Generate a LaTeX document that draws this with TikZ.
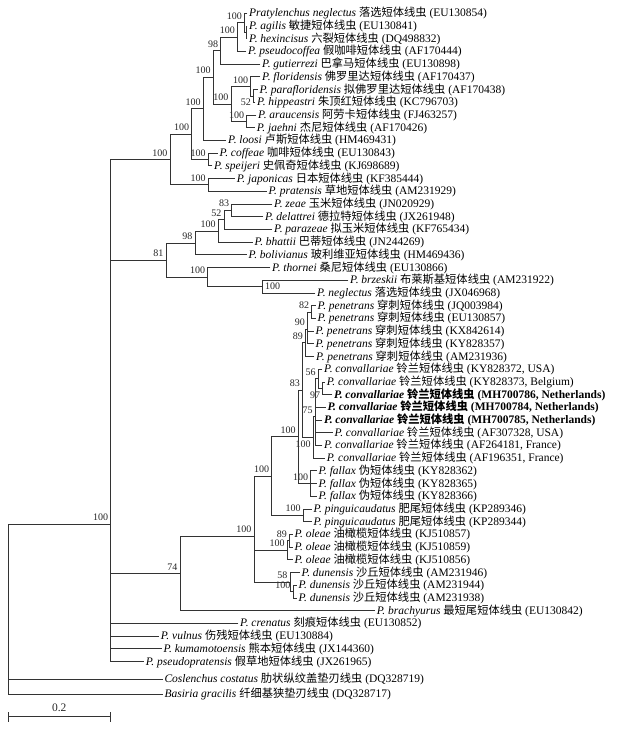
\documentclass[tikz,border=0pt]{standalone}
\usepackage{fontspec}
\setmainfont{Liberation Serif}
\newfontfamily\cjkfont[Scale=0.98]{Noto Sans CJK SC}
\newcommand{\sn}[2]{\textit{#1} {\cjkfont #2}}

\tikzset{
  branch/.style={line width=0.75pt, draw=black!80, line cap=rect},
  leaf/.style={anchor=west, inner xsep=2pt, inner ysep=0pt, font=\fontsize{11.5}{13}\selectfont},
  bs/.style={font=\fontsize{10}{10}\selectfont, inner sep=0pt, text=black!85},
  bsup/.style={bs, xshift=-2.5pt, yshift=3pt},
  bsdn/.style={bs, xshift=-2.5pt, yshift=-3pt}
}

\begin{document}
\begin{tikzpicture}[x=1pt,y=-1pt]
\useasboundingbox (0,0) rectangle (632,729);
% the leaves, one row each
\foreach \i/\x/\leaftext in {
  1/247/{\sn{Pratylenchus neglectus}{落选短体线虫} (EU130854)},
  2/247/{\sn{P. agilis}{敏捷短体线虫} (EU130841)},
  3/247/{\sn{P. hexincisus}{六裂短体线虫} (DQ498832)},
  4/246/{\sn{P. pseudocoffea}{假咖啡短体线虫} (AF170444)},
  5/260/{\sn{P. gutierrezi}{巴拿马短体线虫} (EU130898)},
  6/260/{\sn{P. floridensis}{佛罗里达短体线虫} (AF170437)},
  7/257.3/{\sn{P. parafloridensis}{拟佛罗里达短体线虫} (AF170438)},
  8/255/{\sn{P. hippeastri}{朱顶红短体线虫} (KC796703)},
  9/256/{\sn{P. araucensis}{阿劳卡短体线虫} (FJ463257)},
  10/254.7/{\sn{P. jaehni}{杰尼短体线虫} (AF170426)},
  11/226/{\sn{P. loosi}{卢斯短体线虫} (HM469431)},
  12/217.5/{\sn{P. coffeae}{咖啡短体线虫} (EU130843)},
  13/212/{\sn{P. speijeri}{史佩奇短体线虫} (KJ698689)},
  14/234.7/{\sn{P. japonicas}{日本短体线虫} (KF385444)},
  15/266.3/{\sn{P. pratensis}{草地短体线虫} (AM231929)},
  16/272/{\sn{P. zeae}{玉米短体线虫} (JN020929)},
  17/263/{\sn{P. delattrei}{德拉特短体线虫} (JX261948)},
  18/272/{\sn{P. parazeae}{拟玉米短体线虫} (KF765434)},
  19/252.5/{\sn{P. bhattii}{巴蒂短体线虫} (JN244269)},
  20/246.5/{\sn{P. bolivianus}{玻利维亚短体线虫} (HM469436)},
  21/270/{\sn{P. thornei}{桑尼短体线虫} (EU130866)},
  22/348/{\sn{P. brzeskii}{布莱斯基短体线虫} (AM231922)},
  23/315/{\sn{P. neglectus}{落选短体线虫} (JX046968)},
  24/315.5/{\sn{P. penetrans}{穿刺短体线虫} (JQ003984)},
  25/315.5/{\sn{P. penetrans}{穿刺短体线虫} (EU130857)},
  26/313.5/{\sn{P. penetrans}{穿刺短体线虫} (KX842614)},
  27/313.5/{\sn{P. penetrans}{穿刺短体线虫} (KY828357)},
  28/314/{\sn{P. penetrans}{穿刺短体线虫} (AM231936)},
  29/322/{\sn{P. convallariae}{铃兰短体线虫} (KY828372, USA)},
  30/324.7/{\sn{P. convallariae}{铃兰短体线虫} (KY828373, Belgium)},
  31/332/{\bfseries\sn{P. convallariae}{铃兰短体线虫} (MH700786, Netherlands)},
  32/325.3/{\bfseries\sn{P. convallariae}{铃兰短体线虫} (MH700784, Netherlands)},
  33/322/{\bfseries\sn{P. convallariae}{铃兰短体线虫} (MH700785, Netherlands)},
  34/332.5/{\sn{P. convallariae}{铃兰短体线虫} (AF307328, USA)},
  35/322/{\sn{P. convallariae}{铃兰短体线虫} (AF264181, France)},
  36/324.7/{\sn{P. convallariae}{铃兰短体线虫} (AF196351, France)},
  37/316.3/{\sn{P. fallax}{伪短体线虫} (KY828362)},
  38/316.3/{\sn{P. fallax}{伪短体线虫} (KY828365)},
  39/316.3/{\sn{P. fallax}{伪短体线虫} (KY828366)},
  40/311.3/{\sn{P. pinguicaudatus}{肥尾短体线虫} (KP289346)},
  41/311.3/{\sn{P. pinguicaudatus}{肥尾短体线虫} (KP289344)},
  42/292.3/{\sn{P. oleae}{油橄榄短体线虫} (KJ510857)},
  43/292.3/{\sn{P. oleae}{油橄榄短体线虫} (KJ510859)},
  44/292.3/{\sn{P. oleae}{油橄榄短体线虫} (KJ510856)},
  45/299.5/{\sn{P. dunensis}{沙丘短体线虫} (AM231946)},
  46/296.3/{\sn{P. dunensis}{沙丘短体线虫} (AM231944)},
  47/296.3/{\sn{P. dunensis}{沙丘短体线虫} (AM231938)},
  48/374.7/{\sn{P. brachyurus}{最短尾短体线虫} (EU130842)},
  49/238/{\sn{P. crenatus}{刻痕短体线虫} (EU130852)},
  50/158.7/{\sn{P. vulnus}{伤残短体线虫} (EU130884)},
  51/161.3/{\sn{P. kumamotoensis}{熊本短体线虫} (JX144360)},
  52/143.7/{\sn{P. pseudopratensis}{假草地短体线虫} (JX261965)}}
  \node[leaf] (l\i) at (\x,{13.3+(\i-1)*12.71}) {\leaftext};
% the two outgroups
\node[leaf] (l53) at (162.3,679.3) {\sn{Coslenchus costatus}{肋状纵纹盖垫刃线虫} (DQ328719)};
\node[leaf] (l54) at (162.3,694.3) {\sn{Basiria gracilis}{纤细基狭垫刃线虫} (DQ328717)};

% root and ingroup
\coordinate (r) at (8.3,632.5);
\coordinate[label={[bsup]above left:100}] (n0) at (110.7,524);
% clade A
\coordinate[label={[bsup]above left:100}] (a1) at (170,159.5);
\coordinate[label={[bsup]above left:100}] (a2) at (191.7,134.1);
\coordinate[label={[bsup]above left:100}] (a3) at (203.3,108.8);
\coordinate[label={[bsup]above left:100}] (a4) at (213.3,77.2);
\coordinate[label={[bsup]above left:98}] (a5) at (220.7,50.6);
\coordinate[label={[bsup]above left:100}] (a6) at (237.5,37.1);
\coordinate[label={[bsup]above left:100}] (a7) at (244.5,22.8);
\coordinate (a8) at (246,32.35);
\coordinate[label={[bsup]above left:100}] (a9) at (231,103.9);
\coordinate[label={[bsup]above left:100}] (a10) at (250.7,86.4);
\coordinate[label={[bsdn]below left:52}] (a11) at (253.5,95.95);
\coordinate[label={[bsup]above left:100}] (a12) at (246.7,121.35);
\coordinate[label={[bsup]above left:100}] (a13) at (208.3,159.45);
\coordinate[label={[bsup]above left:100}] (a14) at (208.3,184.85);
% clade B
\coordinate[label={[bsup]above left:81}] (b1) at (166,260);
\coordinate[label={[bsup]above left:98}] (b2) at (195,242.9);
\coordinate[label={[bsup]above left:100}] (b3) at (218.3,231);
\coordinate[label={[bsup]above left:52}] (b4) at (224,219.8);
\coordinate[label={[bsup]above left:83}] (b5) at (231.7,210.25);
\coordinate[label={[bsup]above left:100}] (b6) at (207.7,277);
\coordinate[label={[bs,xshift=3pt]right:100}] (b7) at (262,286.55);
% clade C
\coordinate[label={[bsup]above left:74}] (c1) at (180,573.3);
\coordinate[label={[bsup]above left:100}] (c2) at (254,536.1);
\coordinate[label={[bsup]above left:100}] (c3) at (271.7,476);
\coordinate[label={[bsup]above left:100}] (c4) at (298.3,436.8);
\coordinate[label={[bsup]above left:83}] (c5) at (302.5,390.1);
\coordinate[label={[bsup]above left:89}] (c6) at (305.5,342.7);
\coordinate[label={[bsup]above left:90}] (c7) at (307.5,328.9);
\coordinate[label={[bsup]above left:82}] (c8) at (311.7,311.95);
\coordinate[label={[bsdn]below left:100}] (c9) at (313.3,437.5);
\coordinate[label={[bsup]above left:75}] (c10) at (315.3,416.8);
\coordinate[label={[bsup]above left:56}] (c11) at (318.3,378.7);
\coordinate[label={[bsdn]below left:97}] (c12) at (322.7,388.25);
\coordinate[label={[bsup]above left:100}] (c13) at (310.7,483.5);
\coordinate[label={[bsup]above left:100}] (c14) at (303.3,515.25);
\coordinate[label={[bsup]above left:100}] (c15) at (287.3,550.2);
\coordinate[label={[bsup]above left:89}] (c16) at (289.5,540.65);
\coordinate[label={[bsup]above left:58}] (c17) at (290,582);
\coordinate[label={[bsup]above left:100}] (c18) at (293,591.55);

% the branches
\foreach \p/\c in {r/n0, r/l53, r/l54,
  n0/a1, n0/b1, n0/c1, n0/l49, n0/l50, n0/l51, n0/l52}
  \draw[branch] (\p) |- (\c);
\foreach \p/\c in {a1/a2, a1/a14, a2/a3, a2/a13, a3/a4, a3/l11, a4/a5, a4/a9,
  a5/a6, a5/l5, a6/a7, a6/l4, a7/l1, a7/a8, a8/l2, a8/l3, a9/a10, a9/a12,
  a10/l6, a10/a11, a11/l7, a11/l8, a12/l9, a12/l10, a13/l12, a13/l13,
  a14/l14, a14/l15}
  \draw[branch] (\p) |- (\c);
\foreach \p/\c in {b1/b2, b1/b6, b2/b3, b2/l20, b3/b4, b3/l19, b4/b5, b4/l18,
  b5/l16, b5/l17, b6/l21, b6/b7, b7/l22, b7/l23}
  \draw[branch] (\p) |- (\c);
\foreach \p/\c in {c1/c2, c1/l48, c2/c3, c2/c15, c2/c17, c3/c4, c3/c14,
  c4/c5, c4/c13, c5/c6, c5/c9, c6/c7, c6/l28, c7/c8, c7/l26, c7/l27,
  c8/l24, c8/l25, c9/c10, c9/l36, c10/c11, c10/l32, c10/l33, c10/l34, c10/l35,
  c11/l29, c11/c12, c12/l30, c12/l31, c13/l37, c13/l38, c13/l39,
  c14/l40, c14/l41, c15/c16, c15/l44, c16/l42, c16/l43,
  c17/l45, c17/c18, c18/l46, c18/l47}
  \draw[branch] (\p) |- (\c);

% the scale bar
\coordinate (s1) at (8.3,716.7);
\coordinate (s2) at (110,716.7);
\draw[branch] (s1) -- (s2);
\draw[branch] ([yshift=4pt]s1) -- ([yshift=-4.5pt]s1);
\draw[branch] ([yshift=4pt]s2) -- ([yshift=-4.5pt]s2);
\node[bs, font=\fontsize{11.5}{12}\selectfont] (slab) at (59.2,707.5) {0.2};
\end{tikzpicture}
\end{document}
